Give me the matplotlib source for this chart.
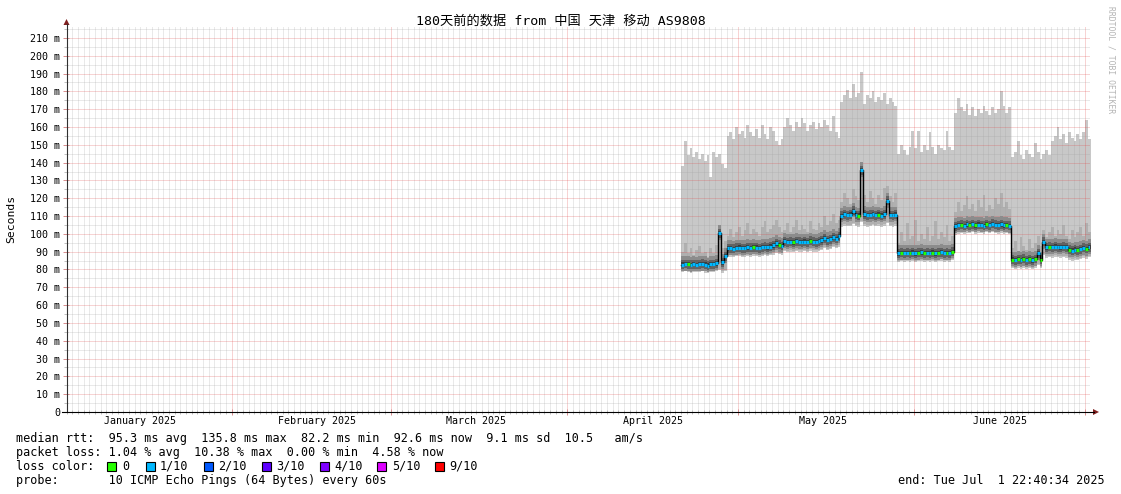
import datetime as dt
import numpy as np
import pandas as pd
import matplotlib
matplotlib.use('Agg')
import matplotlib.pyplot as plt
import matplotlib.dates as mdates
from matplotlib.patches import Rectangle, Polygon
from matplotlib.lines import Line2D

plt.rcParams['font.family'] = ['DejaVu Sans Mono', 'Noto Sans CJK SC']

title = '180天前的数据 from 中国 天津 移动 AS9808'
t_start = dt.datetime(2025, 1, 2, 22, 40, 34)
t_end = dt.datetime(2025, 7, 1, 22, 40, 34)
first_sample = '2025-04-21 00:00'   # samples every 12h
month_labels = ['January 2025', 'February 2025', 'March 2025',
                'April 2025', 'May 2025', 'June 2025']

# median rtt (ms), one value per 12h
median = [82.8, 83.1, 82.9, 82.6, 83.0, 82.7, 82.9, 83.2, 82.8, 82.2, 82.9, 83.0, 83.4, 100.3, 84.0, 87.5,
          91.8, 92.0, 91.7, 92.1, 92.3, 91.9, 92.0, 92.4, 92.1, 92.6, 92.3, 92.0, 92.5, 92.8, 92.4, 92.9, 93.5, 94.6, 93.8, 93.2,
          95.8, 95.3, 95.6, 95.2, 95.9, 95.5, 95.4, 95.7, 95.3, 96.1, 95.6, 95.4, 95.8, 96.3, 97.5, 96.4, 97.0, 98.2, 97.3, 98.6,
          110.2, 111.0, 110.5, 110.8, 113.0, 110.6, 110.3, 135.8, 110.9, 110.4, 110.7, 111.1, 110.5, 110.8, 110.3, 110.9, 118.5, 110.6, 110.4, 110.8,
          89.0, 89.3, 89.1, 89.4, 89.2, 89.5, 89.0, 89.3, 89.6, 89.1, 89.4, 89.2, 89.5, 89.0, 89.3, 89.7, 89.1, 89.4, 89.2, 90.0,
          104.2, 104.8, 105.1, 104.6, 105.3, 104.9, 105.5, 104.7, 105.2, 105.0, 104.6, 105.4, 104.9, 105.6, 105.1, 104.8, 105.3, 104.7, 105.0, 104.5,
          85.6, 85.2, 85.8, 85.4, 86.0, 85.3, 85.7, 85.1, 85.9, 89.0, 85.5,
          95.5, 92.4, 92.7, 92.5, 92.9, 92.6, 92.4, 92.8, 92.5, 91.0, 90.6, 91.2, 90.8, 91.4, 92.2, 91.6, 92.6]

# highest ping
ping_max = [138, 152, 144, 148, 143, 146, 142, 145, 141, 144, 132, 146, 143, 145, 139, 137,
            155, 157, 153, 160, 156, 158, 154, 161, 157, 155, 159, 154, 161, 156, 153, 160, 158, 152, 150, 153,
            160, 165, 161, 158, 163, 160, 165, 162, 158, 161, 163, 159, 162, 160, 164, 161, 158, 166, 157, 154,
            174, 178, 181, 176, 184, 177, 179, 191, 173, 178, 176, 180, 174, 177, 175, 179, 173, 176, 174, 172,
            145, 150, 147, 144, 149, 158, 148, 158, 146, 150, 147, 157, 149, 145, 150, 148, 147, 158, 149, 147,
            168, 176, 171, 169, 173, 167, 171, 166, 170, 168, 172, 169, 167, 171, 168, 170, 180, 172, 168, 171,
            143, 146, 152, 144, 142, 147, 145, 143, 151, 146, 142,
            145, 147, 144, 152, 155, 160, 153, 156, 151, 157, 154, 152, 156, 153, 157, 164, 153]

# upper edge of the denser smoke
ping_upper = [90, 95, 89, 92, 88, 91, 93, 89, 90, 87, 92, 89, 94, 104, 92, 96,
              99, 103, 98, 101, 104, 99, 102, 106, 100, 103, 101, 99, 104, 107, 101, 103, 105, 108, 104, 101,
              102, 106, 101, 104, 108, 102, 105, 103, 101, 107, 103, 102, 106, 104, 110, 105, 107, 111, 106, 108,
              118, 123, 120, 117, 125, 121, 119, 140, 122, 118, 124, 120, 117, 122, 119, 126, 127, 121, 118, 123,
              95, 101, 96, 106, 97, 99, 108, 96, 100, 97, 104, 96, 99, 107, 97, 101, 98, 105, 96, 99,
              112, 118, 113, 116, 121, 114, 117, 113, 119, 115, 122, 113, 116, 114, 120, 117, 123, 115, 118, 114,
              92, 96, 90, 98, 93, 91, 97, 92, 95, 99, 93,
              102, 98, 101, 104, 99, 102, 100, 105, 99, 97, 102, 98, 101, 104, 99, 106, 101]

# lowest ping
ping_min = [78.6, 78.9, 78.4, 78.2, 78.7, 78.5, 78.8, 78.9, 78.3, 77.8, 78.6, 78.7, 79.0, 79.5, 78.2, 79.0,
            86.8, 87.2, 86.9, 87.3, 87.5, 87.0, 87.1, 87.6, 87.2, 87.8, 87.4, 87.1, 87.6, 87.9, 87.5, 88.0, 88.4, 89.2, 88.7, 88.3,
            90.2, 89.8, 90.1, 89.7, 90.4, 90.0, 89.9, 90.2, 89.8, 90.6, 90.1, 89.9, 90.3, 90.8, 91.9, 90.9, 91.5, 92.6, 91.8, 92.9,
            104.1, 104.6, 104.2, 104.4, 105.3, 104.3, 104.0, 106.5, 104.5, 104.1, 104.4, 104.8, 104.2, 104.5, 104.0, 104.6, 106.0, 104.3, 104.1, 104.5,
            84.2, 84.5, 84.3, 84.6, 84.4, 84.7, 84.2, 84.5, 84.8, 84.3, 84.6, 84.4, 84.7, 84.2, 84.5, 84.9, 84.3, 84.6, 84.4, 85.1,
            99.6, 100.2, 100.5, 100.0, 100.7, 100.3, 100.9, 100.1, 100.6, 100.4, 100.0, 100.8, 100.3, 101.0, 100.5, 100.2, 100.7, 100.1, 100.4, 99.9,
            80.7, 80.3, 80.9, 80.5, 81.1, 80.4, 80.8, 80.2, 81.0, 82.5, 80.6,
            88.0, 86.6, 86.9, 86.7, 87.1, 86.8, 86.6, 87.0, 86.7, 85.4, 85.0, 85.6, 85.2, 85.8, 86.6, 86.0, 87.0]

# packet loss per sample, in tenths
loss = [1, 1, 0, 1, 1, 1, 1, 1, 1, 1, 1, 1, 1, 1, 1, 1,
        1, 1, 1, 1, 1, 1, 1, 1, 1, 0, 1, 1, 1, 1, 1, 1, 1, 1, 0, 1,
        1, 1, 1, 0, 1, 1, 1, 1, 1, 0, 1, 1, 1, 1, 1, 1, 1, 1, 1, 1,
        1, 1, 1, 1, 1, 1, 0, 1, 1, 1, 1, 1, 1, 0, 1, 1, 1, 1, 1, 1,
        1, 0, 1, 1, 0, 1, 1, 0, 1, 0, 1, 1, 0, 1, 0, 1, 1, 0, 1, 0,
        1, 1, 0, 1, 1, 0, 1, 0, 1, 1, 1, 0, 1, 1, 1, 1, 1, 1, 0, 1,
        0, 1, 0, 1, 0, 1, 0, 1, 0, 1, 0,
        1, 1, 0, 1, 1, 1, 1, 1, 1, 0, 1, 1, 0, 1, 1, 0, 1]

loss_names = ['0', '1/10', '2/10', '3/10', '4/10', '5/10', '9/10']
loss_colors = ['#26ff00', '#00b8ff', '#0059ff', '#5e00ff', '#7e00ff', '#dd00ff', '#ff0000']

stats_lines = ['median rtt:  95.3 ms avg  135.8 ms max  82.2 ms min  92.6 ms now  9.1 ms sd  10.5   am/s',
               'packet loss: 1.04 % avg  10.38 % max  0.00 % min  4.58 % now',
               'loss color:',
               'probe:       10 ICMP Echo Pings (64 Bytes) every 60s']
end_text = 'end: Tue Jul  1 22:40:34 2025'

W, H = 1121, 494
def fx(px):
    return px / W
def fy(py):
    return 1 - py / H

fig = plt.figure(figsize=(W / 100, H / 100), dpi=100)
ax = fig.add_axes([fx(66.2), fy(412), (1090.4 - 66.2) / W, (412 - 26.7) / H])

edges = mdates.date2num(pd.date_range(first_sample, periods=len(median) + 1, freq='12h').to_pydatetime())
def ext(a):
    a = np.asarray(a, dtype=float)
    return np.append(a, a[-1])

med = ext(median)
ax.fill_between(edges, ext(ping_min), ext(ping_max), step='post', color='#c8c8c8', lw=0, zorder=1)
ax.fill_between(edges, ext(ping_min) + 0.8, ext(ping_upper), step='post', color='#b0b0b0', lw=0, zorder=2)
ax.fill_between(edges, med - 3.8, med + 4.5, step='post', color='#8c8c8c', lw=0, zorder=3)
ax.fill_between(edges, med - 2.5, med + 2.5, step='post', color='#626262', lw=0, zorder=4)
ax.fill_between(edges, med - 1.2, med + 1.2, step='post', color='#3c3c3c', lw=0, zorder=5)
ax.step(edges, med, where='post', color='black', lw=1.0, zorder=6)
ax.hlines(median, edges[:-1], edges[1:], colors=[loss_colors[l] for l in loss], lw=2.3, zorder=7)

ax.set_xlim(mdates.date2num(t_start), mdates.date2num(t_end))
ax.set_ylim(0, 216.3)

ax.xaxis.set_major_locator(mdates.MonthLocator())
ax.xaxis.set_minor_locator(mdates.DayLocator())
ax.xaxis.set_major_formatter(plt.NullFormatter())
ax.yaxis.set_major_locator(plt.MultipleLocator(10))
ax.yaxis.set_minor_locator(plt.MultipleLocator(5))
ax.yaxis.set_major_formatter(plt.FuncFormatter(lambda v, p: '0' if v == 0 else '%d m' % v))

dots = (0, (1, 1))
ax.grid(which='minor', color='#a0a0a0', alpha=0.45, ls=dots, lw=0.72, snap=True, zorder=8)
ax.grid(which='major', color='#e04040', alpha=0.45, ls=dots, lw=0.72, snap=True, zorder=9)
ax.set_axisbelow(False)

ax.tick_params(axis='both', which='major', direction='inout', length=5, width=0.72,
               color='#d89090', labelsize=7.2, pad=2)
ax.tick_params(axis='both', which='minor', direction='inout', length=3, width=0.72, color='#c0c0c0')
ax.tick_params(axis='x', labelbottom=False)
for s in ax.spines.values():
    s.set_visible(False)

for m, lab in enumerate(month_labels):
    ax.text(mdates.date2num(dt.datetime(2025, m + 1, 16)), -9 / 385.3, lab,
            transform=ax.get_xaxis_transform(), ha='center', va='center', fontsize=7.2)

# axes lines and arrows
fig.add_artist(Line2D([fx(66.5), fx(66.5)], [fy(412), fy(24)], color='#303030', lw=0.8))
fig.add_artist(Line2D([fx(62), fx(1094)], [fy(412), fy(412)], color='black', lw=0.8))
fig.add_artist(Polygon([[fx(66.5), fy(19)], [fx(63.5), fy(25)], [fx(69.5), fy(25)]],
                       closed=True, color='#7f1f1f', lw=0))
fig.add_artist(Polygon([[fx(1099), fy(412)], [fx(1093), fy(409)], [fx(1093), fy(415)]],
                       closed=True, color='#7f1f1f', lw=0))

fig.text(fx(560.5), fy(21), title, ha='center', va='center', fontsize=9.5)
fig.text(fx(11), fy(219), 'Seconds', rotation=90, ha='center', va='center', fontsize=8.2)
fig.text(fx(1111), fy(60), 'RRDTOOL / TOBI OETIKER', rotation=270, ha='center', va='center',
         fontsize=5.8, color='#b4b4b4')

for i, line in enumerate(stats_lines):
    fig.text(fx(16), fy(438 + 14 * i), line, ha='left', va='center', fontsize=8.5)

sq_x = [107, 146, 204, 262, 320, 377, 435]
lab_x = [122, 160, 218, 276, 334, 392, 449]
for c, name, sx, lx in zip(loss_colors, loss_names, sq_x, lab_x):
    fig.add_artist(Rectangle((fx(sx), fy(470.5)), 9 / W, 9 / H, facecolor=c, edgecolor='black', lw=0.8))
    fig.text(fx(lx), fy(466), name, ha='left', va='center', fontsize=8.5)

fig.text(fx(1105), fy(480), end_text, ha='right', va='center', fontsize=8.5)

fig.savefig('out.png', dpi=100)
